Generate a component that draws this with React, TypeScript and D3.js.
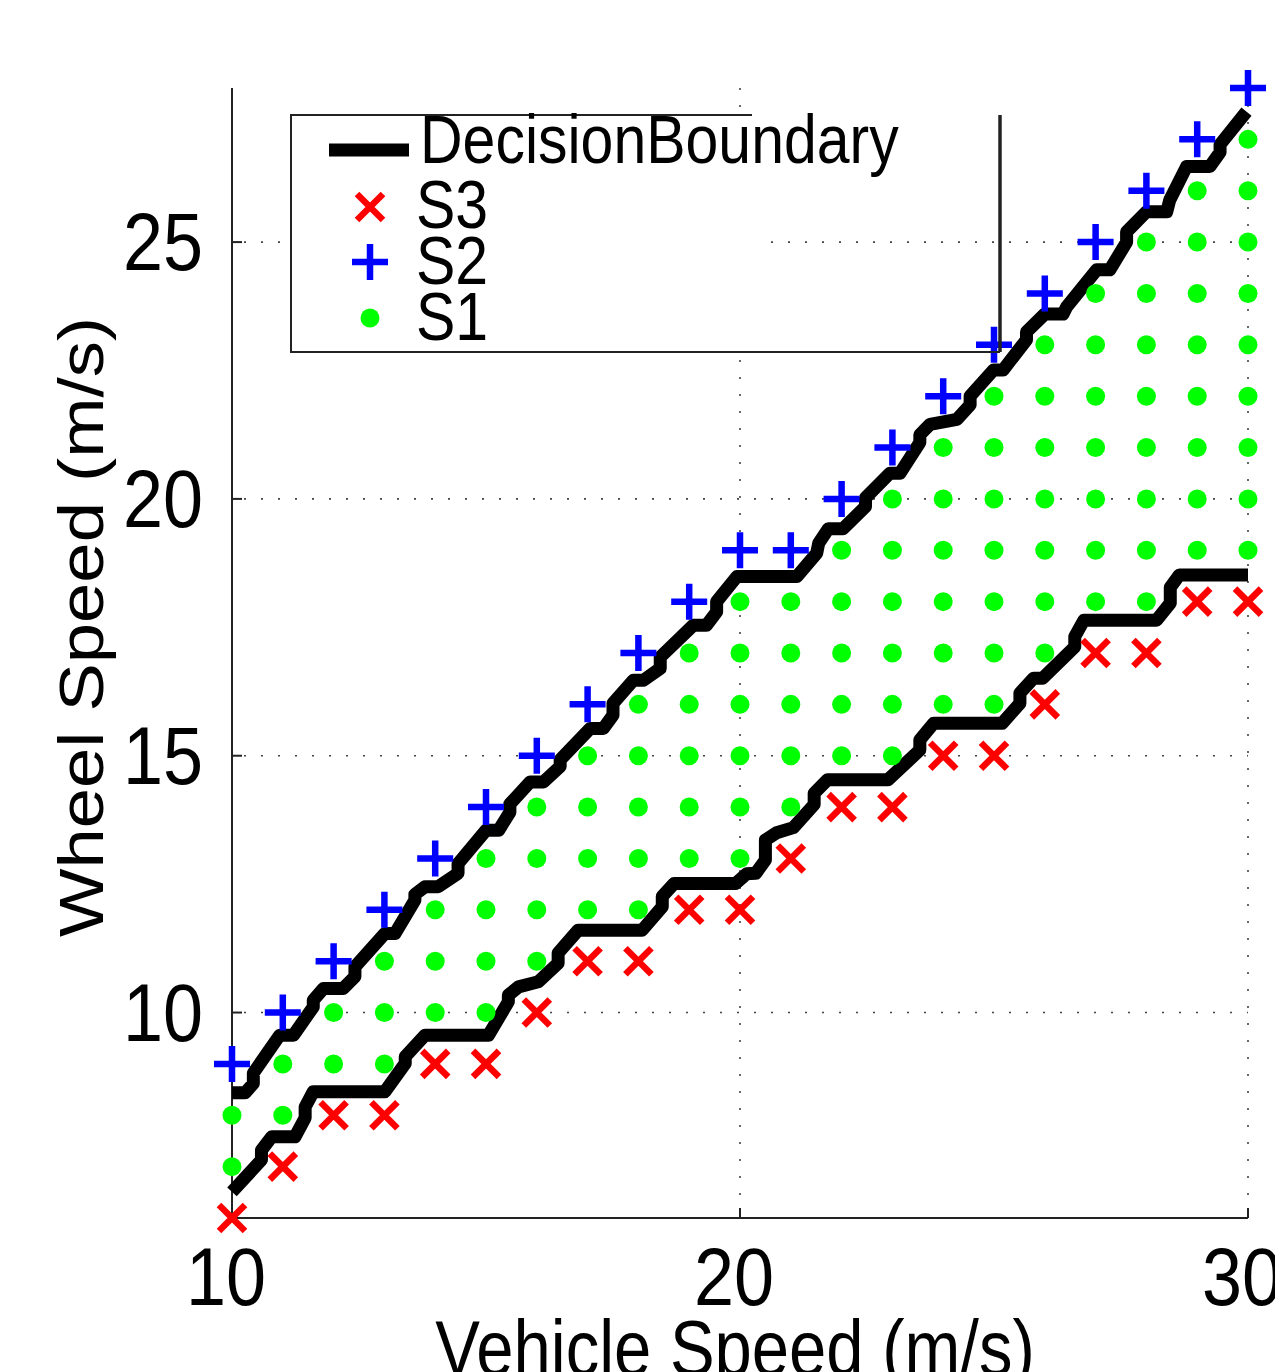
import * as d3 from 'd3';

// vehicle speed columns (m/s)
const speeds = [10, 11, 12, 13, 14, 15, 16, 17, 18, 19, 20, 21, 22, 23, 24, 25, 26, 27, 28, 29, 30];

// wheel speed of the S3 (red x) point in each column
const s3Wheel = [6, 7, 8, 8, 9, 9, 10, 11, 11, 12, 12, 13, 14, 14, 15, 15, 16, 17, 17, 18, 18];

// wheel speed of the S2 (blue +) point in each column
const s2Wheel = [9, 10, 11, 12, 13, 14, 15, 16, 17, 18, 19, 19, 20, 21, 22, 23, 24, 25, 26, 27, 28];

// wheel speeds of the S1 (green dot) points in each column
const s1Wheel = [
  [7, 8],
  [8, 9],
  [9, 10],
  [9, 10, 11],
  [10, 11, 12],
  [10, 11, 12, 13],
  [11, 12, 13, 14],
  [12, 13, 14, 15],
  [12, 13, 14, 15, 16],
  [13, 14, 15, 16, 17],
  [13, 14, 15, 16, 17, 18],
  [14, 15, 16, 17, 18],
  [15, 16, 17, 18, 19],
  [15, 16, 17, 18, 19, 20],
  [16, 17, 18, 19, 20, 21],
  [16, 17, 18, 19, 20, 21, 22],
  [17, 18, 19, 20, 21, 22, 23],
  [18, 19, 20, 21, 22, 23, 24],
  [18, 19, 20, 21, 22, 23, 24, 25],
  [19, 20, 21, 22, 23, 24, 25, 26],
  [19, 20, 21, 22, 23, 24, 25, 26, 27],
];

// decision boundary between S2 and S1 (speed, wheel)
const upperBoundary: [number, number][] = [
  [10.0, 8.44], [10.26, 8.44], [10.42, 8.62], [10.42, 8.82], [10.94, 9.56], [11.21, 9.56],
  [11.6, 10.11], [11.6, 10.24], [11.8, 10.47], [12.19, 10.47], [12.42, 10.7], [12.42, 10.89],
  [13.01, 11.54], [13.21, 11.54], [13.6, 12.19], [13.6, 12.3], [13.8, 12.45], [14.06, 12.45],
  [14.45, 12.71], [14.45, 12.9], [15.0, 13.55], [15.25, 13.55], [15.47, 13.9], [15.47, 14.06],
  [15.87, 14.49], [16.13, 14.49], [16.46, 14.79], [16.46, 14.92], [17.05, 15.53], [17.31, 15.53],
  [17.5, 15.79], [17.5, 16.02], [17.9, 16.47], [18.1, 16.47], [18.43, 16.7], [18.43, 16.92],
  [19.08, 17.54], [19.34, 17.54], [19.54, 17.8], [19.54, 18.0], [19.94, 18.49], [21.12, 18.49],
  [21.51, 18.94], [21.55, 19.14], [21.74, 19.42], [22.03, 19.42], [22.47, 19.85], [22.47, 20.02],
  [22.95, 20.5], [23.15, 20.5], [23.54, 21.1], [23.54, 21.25], [23.74, 21.45], [24.27, 21.55],
  [24.53, 21.83], [24.53, 22.0], [24.99, 22.51], [25.18, 22.51], [25.64, 23.1], [25.64, 23.25],
  [26.0, 23.6], [26.36, 23.6], [26.43, 23.74], [27.02, 24.46], [27.28, 24.46], [27.61, 25.0],
  [27.61, 25.2], [28.0, 25.59], [28.4, 25.59], [28.46, 25.82], [28.79, 26.47], [29.25, 26.47],
  [29.45, 26.75], [29.45, 26.9], [29.97, 27.54],
];

// decision boundary between S1 and S3 (speed, wheel)
const lowerBoundary: [number, number][] = [
  [10.0, 6.51], [10.58, 7.13], [10.58, 7.32], [10.78, 7.58], [11.24, 7.58], [11.44, 7.95],
  [11.44, 8.16], [11.6, 8.46], [13.01, 8.46], [13.41, 9.01], [13.41, 9.14], [13.8, 9.56],
  [15.05, 9.56], [15.44, 10.21], [15.44, 10.34], [15.64, 10.5], [16.03, 10.6], [16.42, 10.96],
  [16.42, 11.16], [16.81, 11.6], [18.07, 11.6], [18.47, 12.06], [18.47, 12.26], [18.7, 12.51],
  [19.91, 12.51], [20.13, 12.7], [20.31, 12.71], [20.5, 12.97], [20.5, 13.36], [20.72, 13.5],
  [21.05, 13.6], [21.46, 14.05], [21.46, 14.27], [21.72, 14.53], [22.91, 14.53], [23.54, 15.11],
  [23.54, 15.31], [23.81, 15.63], [25.16, 15.63], [25.51, 16.02], [25.51, 16.22], [25.78, 16.51],
  [25.96, 16.51], [26.59, 17.12], [26.59, 17.32], [26.77, 17.64], [28.2, 17.64], [28.47, 17.97],
  [28.47, 18.28], [28.65, 18.52], [30.0, 18.52],
];

const xTicks = [10, 20, 30];
const yTicks = [10, 15, 20, 25];

const W = 1275;
const H = 1372;
const FONT = "'Liberation Sans', Arial, Helvetica, sans-serif";
const STRETCH = 1.15; // the original figure is stretched vertically
const TICK_STRETCH = 1.12;

const RED = '#ff0000';
const BLUE = '#0000ff';
const GREEN = '#00ff00';

function Cross({ cx, cy, r = 13 }: { cx: number; cy: number; r?: number }) {
  return (
    <path
      d={`M${cx - r},${cy - r}L${cx + r},${cy + r}M${cx - r},${cy + r}L${cx + r},${cy - r}`}
      stroke={RED}
      strokeWidth={6.5}
      fill="none"
    />
  );
}

function Plus({ cx, cy, r = 18 }: { cx: number; cy: number; r?: number }) {
  return (
    <path
      d={`M${cx - r},${cy}L${cx + r},${cy}M${cx},${cy - r}L${cx},${cy + r}`}
      stroke={BLUE}
      strokeWidth={6.5}
      fill="none"
    />
  );
}

export default function App() {
  const x = d3.scaleLinear().domain([10, 30]).range([232, 1248]);
  const y = d3.scaleLinear().domain([6, 28]).range([1218, 88]);

  const line = d3
    .line<[number, number]>()
    .x((d) => x(d[0]))
    .y((d) => y(d[1]));

  const [x0, x1] = x.range();
  const [y0, y1] = y.range();

  return (
    <svg
      width={W}
      height={H}
      style={{ position: 'absolute', left: 0, top: 0, background: '#fff' }}
      fontFamily={FONT}
    >
      <rect width={W} height={H} fill="#fff" />

      {/* dotted grid */}
      <g stroke="#444" strokeWidth={1.6} strokeDasharray="2,15">
        {yTicks.map((t) => (
          <line key={`gy${t}`} x1={x0 + 12} x2={x1} y1={y(t)} y2={y(t)} />
        ))}
        {xTicks.slice(1).map((t) => (
          <line key={`gx${t}`} x1={x(t)} x2={x(t)} y1={y1} y2={y0 - 12} />
        ))}
      </g>

      {/* axes */}
      <g stroke="#222" strokeWidth={2}>
        <line x1={x0} x2={x0} y1={y1} y2={y0} />
        <line x1={x0} x2={x1} y1={y0} y2={y0} />
        {yTicks.map((t) => (
          <line key={`ty${t}`} x1={x0} x2={x0 + 10} y1={y(t)} y2={y(t)} />
        ))}
        {xTicks.map((t) => (
          <line key={`tx${t}`} x1={x(t)} x2={x(t)} y1={y0} y2={y0 - 10} />
        ))}
      </g>

      {/* decision boundaries */}
      <g fill="none" stroke="#000" strokeWidth={13} strokeLinejoin="round">
        <path d={line(upperBoundary) ?? ''} />
        <path d={line(lowerBoundary) ?? ''} />
      </g>

      {/* S3 */}
      {speeds.map((s, i) => (
        <Cross key={`s3${s}`} cx={x(s)} cy={y(s3Wheel[i])} />
      ))}
      {/* S2 */}
      {speeds.map((s, i) => (
        <Plus key={`s2${s}`} cx={x(s)} cy={y(s2Wheel[i])} />
      ))}
      {/* S1 */}
      {speeds.map((s, i) =>
        s1Wheel[i].map((w) => <circle key={`s1${s}-${w}`} cx={x(s)} cy={y(w)} r={9.5} fill={GREEN} />)
      )}

      {/* tick labels */}
      {xTicks.map((t) => (
        <text
          key={`lx${t}`}
          transform={`translate(${x(t) - 6},1305) scale(1,${TICK_STRETCH})`}
          textAnchor="middle"
          fontSize={72}
        >
          {t}
        </text>
      ))}
      {yTicks.map((t) => (
        <text
          key={`ly${t}`}
          transform={`translate(203,${y(t) + 28}) scale(1,${TICK_STRETCH})`}
          textAnchor="end"
          fontSize={72}
        >
          {t}
        </text>
      ))}

      {/* axis titles */}
      <text transform={`translate(735,1375) scale(1,${STRETCH})`} textAnchor="middle" fontSize={67}>
        Vehicle Speed (m/s)
      </text>
      <text
        transform={`translate(103,627) scale(1,${STRETCH}) rotate(-90)`}
        textAnchor="middle"
        fontSize={63}
      >
        Wheel Speed (m/s)
      </text>

      {/* legend */}
      <g>
        <rect x={291} y={115} width={471} height={237} fill="#fff" />
        <path d="M752,115H291V352H1000" fill="none" stroke="#222" strokeWidth={2} />
        <line x1={1000} x2={1000} y1={115} y2={352} stroke="#222" strokeWidth={3.5} />
        <line x1={329} x2={409} y1={150} y2={150} stroke="#000" strokeWidth={13} />
        <text transform={`translate(420,163) scale(1,${STRETCH})`} fontSize={59}>
          DecisionBoundary
        </text>
        <Cross cx={370} cy={207} />
        <text transform={`translate(416,228) scale(1,${STRETCH})`} fontSize={59}>
          S3
        </text>
        <Plus cx={370} cy={262} />
        <text transform={`translate(416,284) scale(1,${STRETCH})`} fontSize={59}>
          S2
        </text>
        <circle cx={370} cy={318} r={9.5} fill={GREEN} />
        <text transform={`translate(416,340) scale(1,${STRETCH})`} fontSize={59}>
          S1
        </text>
      </g>
    </svg>
  );
}
